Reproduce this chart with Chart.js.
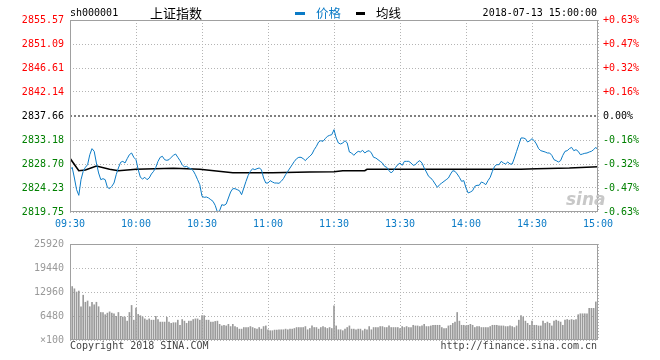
<!DOCTYPE html>
<html>
<head>
<meta charset="utf-8">
<script src="https://cdn.jsdelivr.net/npm/chart.js@4.4.0/dist/chart.umd.min.js"></script>
<style>
  body { margin: 0; background: #fff; width: 660px; height: 360px; position: relative; overflow: hidden; }
  canvas { position: absolute; left: 0; }
  #pc { top: 0; }
  #vc { top: 232px; }
  .t { position: absolute; white-space: nowrap; font: 10px/12px "DejaVu Sans Mono", monospace; }
  .cjk { font-family: "Noto Sans CJK SC", sans-serif; }
  .bar { position: absolute; height: 3px; }
</style>
</head>
<body>
<canvas id="pc" width="660" height="232"></canvas>
<canvas id="vc" width="660" height="128"></canvas>

<div class="t" style="left:70px;top:7px;color:#000">sh000001</div>
<div class="t cjk" style="left:150px;top:4px;font-size:13px;line-height:18px;color:#000">上证指数</div>
<div class="bar" style="left:295px;top:12px;width:10px;background:#0b7bc6"></div>
<div class="t cjk" style="left:316px;top:4px;font-size:12.5px;line-height:18px;color:#0b7bc6">价格</div>
<div class="bar" style="left:356px;top:12px;width:9px;background:#000"></div>
<div class="t cjk" style="left:376px;top:4px;font-size:12.5px;line-height:18px;color:#000">均线</div>
<div class="t" style="right:63px;top:7px;color:#000">2018-07-13 15:00:00</div>
<div class="t" style="left:566px;top:190px;font:italic bold 17px/18px 'DejaVu Sans',sans-serif;color:#c8c8c8">sina</div>
<div class="t" style="left:70px;top:340px;color:#444">Copyright 2018 SINA.COM</div>
<div class="t" style="right:63px;top:340px;color:#444">http://finance.sina.com.cn</div>

<script>
// 上证指数 分时 2018-07-13, one point per minute from 09:30 (0) to 15:00 (240)
const timeLabels = ["09:30", "10:00", "10:30", "11:00", "11:30", "13:30", "14:00", "14:30", "15:00"];
const priceTicks = [2819.75, 2824.23, 2828.70, 2833.18, 2837.66, 2842.14, 2846.61, 2851.09, 2855.57];
const pctTicks = ["-0.63%", "-0.47%", "-0.32%", "-0.16%", "0.00%", "+0.16%", "+0.32%", "+0.47%", "+0.63%"];
const volTicks = [0, 6480, 12960, 19440, 25920];
const prevClose = 2837.66;

const prices = [
  2827.65,2828.08,2826.09,2823.92,2822.86,2825.78,2827.34,2828.08,2828.58,2830.45,
  2831.57,2831.07,2828.89,2827.03,2825.78,2825.97,2825.78,2824.35,2824.10,2824.54,
  2825.16,2826.71,2827.96,2829.02,2829.20,2828.89,2829.70,2830.45,2830.76,2829.95,
  2829.51,2827.65,2826.22,2825.91,2826.22,2825.78,2826.09,2826.84,2827.34,2828.08,
  2829.20,2829.95,2830.14,2829.51,2829.39,2829.51,2829.95,2830.32,2830.57,2829.95,
  2829.33,2828.58,2828.15,2828.27,2827.96,2827.83,2827.46,2826.71,2825.78,2824.85,
  2822.67,2822.49,2822.55,2822.36,2822.05,2821.74,2820.99,2819.75,2819.99,2821.12,
  2820.99,2821.24,2822.36,2823.48,2824.10,2824.10,2823.92,2823.73,2822.98,2824.23,
  2825.47,2826.59,2827.34,2827.83,2827.65,2827.83,2827.96,2827.65,2826.09,2825.16,
  2825.16,2825.60,2825.35,2825.16,2825.16,2825.10,2825.47,2825.97,2826.71,2827.34,
  2827.96,2828.58,2829.20,2829.70,2829.95,2829.95,2829.70,2829.33,2829.82,2830.14,
  2830.57,2831.38,2832.00,2832.81,2833.06,2832.93,2833.43,2833.87,2834.05,2834.18,
  2835.11,2833.56,2832.62,2832.44,2832.62,2833.06,2832.62,2830.94,2830.76,2830.32,
  2830.76,2831.07,2830.94,2831.25,2830.76,2831.07,2831.19,2830.76,2829.95,2829.82,
  2829.51,2829.20,2828.89,2828.27,2828.08,2827.46,2827.03,2827.46,2828.08,2828.58,
  2828.89,2828.46,2829.20,2829.20,2829.20,2828.89,2828.46,2828.58,2829.08,2829.33,
  2828.89,2827.96,2827.21,2826.40,2826.09,2825.60,2824.97,2824.35,2824.85,2825.16,
  2825.47,2825.78,2826.09,2826.84,2827.46,2827.34,2826.84,2826.22,2825.47,2825.60,
  2824.23,2823.30,2823.48,2823.73,2824.54,2824.73,2824.73,2825.35,2825.16,2824.85,
  2825.60,2826.22,2827.34,2828.27,2828.58,2828.58,2829.20,2828.89,2828.70,2829.08,
  2828.70,2828.70,2829.82,2831.07,2832.31,2833.56,2833.56,2833.43,2832.81,2833.06,
  2833.43,2833.06,2832.44,2831.57,2831.19,2831.07,2830.94,2830.76,2830.76,2830.32,
  2829.51,2829.33,2829.08,2829.33,2830.32,2831.07,2831.19,2831.57,2831.81,2831.19,
  2831.38,2831.07,2830.45,2830.57,2830.70,2830.76,2830.94,2831.07,2831.38,2831.81,
  2831.32
];

// average line, read at the minutes where it changes
const avgMinutes = [0, 4, 7, 12, 18, 22, 30, 47, 59, 74, 92, 109, 120, 124, 134, 135, 205, 212, 227, 240];
const avgValues = [2829.77, 2827.45, 2827.59, 2828.33, 2827.72, 2827.45, 2827.72, 2827.90, 2827.72, 2827.08,
                   2827.08, 2827.21, 2827.27, 2827.45, 2827.45, 2827.72, 2827.72, 2827.83, 2827.96, 2828.20];

const volumes = [
  25900,14435,13824,12960,13220,8985,12096,10195,10541,8985,
  10195,9504,10195,8985,7430,7430,6826,7258,7603,7258,
  7085,6394,7430,6394,6221,6221,5098,7430,9331,5357,
  8640,6912,6566,6221,5702,5357,5702,5357,5357,6394,
  5530,4838,4838,4838,6134,4838,4493,4666,4666,5357,
  3974,5530,5098,4493,5098,5098,5530,5702,5702,5357,
  6566,6566,5357,5357,4838,4838,5011,5098,4234,3802,
  3974,3802,4234,3629,4234,3629,3370,2938,2938,3370,
  3370,3370,3629,3370,3110,2938,3370,2938,3629,3802,
  2765,2506,2506,2678,2678,2765,2765,2765,2938,2765,
  2938,2938,3110,3370,3370,3370,3370,3629,2765,3110,
  3802,3370,3370,2938,3370,3629,3370,3110,3370,3110,
  9245,3802,2765,2765,2506,2938,3370,3802,2938,2938,
  2765,2938,2938,2506,2938,2765,3629,2765,3370,3370,
  3370,3629,3629,3370,3370,3802,3370,3370,3370,3370,
  3110,3629,3370,3629,3370,3370,3974,3802,3802,3629,
  3802,4234,3629,3629,3802,3974,3974,3974,3974,3370,
  3110,3110,3802,3974,4493,4838,7430,5098,3974,3974,
  3802,3974,4234,3974,3370,3629,3629,3370,3370,3370,
  3370,3629,3974,3974,3974,3802,3802,3802,3629,3629,
  3802,3629,3370,3802,5357,6566,6221,5098,4493,3974,
  5098,3974,3974,3802,3802,5098,4493,4838,4493,3802,
  5098,5357,5098,4838,3974,5357,5530,5357,5530,5357,
  5530,6826,7085,7085,7085,7085,8554,8554,8554,10282,
  12269
];

const monoFont = { family: "'DejaVu Sans Mono', monospace", size: 10 };
const gridGray = '#b4b4b4';
const blue = '#0b7bc6';

function priceColor(ctx) {
  const v = ctx.tick.value;
  if (v > prevClose + 0.001) return '#ff0000';
  if (v < prevClose - 0.001) return '#008000';
  return '#000000';
}

const frame = {
  id: 'frame',
  afterDraw(chart) {
    const a = chart.chartArea, c = chart.ctx;
    c.save();
    c.strokeStyle = '#a0a0a0';
    c.lineWidth = 1;
    c.strokeRect(Math.round(a.left) + 0.5, Math.round(a.top) + 0.5,
                 Math.round(a.right - a.left) - 1, Math.round(a.bottom - a.top) - 1);
    c.restore();
  }
};

const timeAxis = (showLabels) => ({
  type: 'linear', min: 0, max: 240, offset: false,
  afterBuildTicks: ax => { ax.ticks = timeLabels.map((_, k) => ({ value: k * 30 })); },
  afterFit: s => { s.height = 20; },
  grid: { color: gridGray, drawTicks: false, offset: false },
  border: { display: false, dash: [1, 2] },
  ticks: {
    display: showLabels, color: blue, font: monoFont, padding: 6, maxRotation: 0,
    callback: v => timeLabels[v / 30]
  }
});

new Chart(document.getElementById('pc'), {
  type: 'line',
  data: {
    datasets: [{
      label: '价格',
      data: prices.map((v, i) => ({ x: i, y: v })),
      borderColor: blue, borderWidth: 1, pointRadius: 0, tension: 0
    }, {
      label: '均线',
      data: avgMinutes.map((m, k) => ({ x: m, y: avgValues[k] })),
      borderColor: '#000', borderWidth: 1.6, pointRadius: 0, tension: 0
    }, {
      label: 'prev',
      data: [{ x: 0, y: prevClose }, { x: 240, y: prevClose }],
      borderColor: '#000', borderWidth: 1, borderDash: [2, 2], pointRadius: 0
    }]
  },
  options: {
    responsive: false, animation: false, devicePixelRatio: 1,
    layout: { padding: { top: 20, left: 0, right: 0, bottom: 0 } },
    plugins: { legend: { display: false }, tooltip: { enabled: false } },
    scales: {
      x: timeAxis(true),
      y: {
        min: priceTicks[0], max: priceTicks[priceTicks.length - 1],
        afterBuildTicks: ax => { ax.ticks = priceTicks.map(v => ({ value: v })); },
        afterFit: s => { s.width = 70; },
        grid: {
          drawTicks: false,
          color: ctx => (ctx.tick && Math.abs(ctx.tick.value - prevClose) < 0.001) ? 'rgba(0,0,0,0)' : gridGray
        },
        border: { display: false, dash: [1, 2] },
        ticks: { color: priceColor, font: monoFont, padding: 6, callback: v => v.toFixed(2) }
      },
      y2: {
        position: 'right',
        min: priceTicks[0], max: priceTicks[priceTicks.length - 1],
        afterBuildTicks: ax => { ax.ticks = priceTicks.map(v => ({ value: v })); },
        afterFit: s => { s.width = 62; },
        grid: { display: false, drawTicks: false },
        border: { display: false },
        ticks: { color: priceColor, font: monoFont, padding: 5,
                 callback: v => pctTicks[priceTicks.findIndex(p => Math.abs(p - v) < 0.001)] }
      }
    }
  },
  plugins: [frame]
});

new Chart(document.getElementById('vc'), {
  type: 'bar',
  data: {
    datasets: [{
      label: 'volume',
      data: volumes.map((v, i) => ({ x: i, y: v })),
      backgroundColor: '#9a9a9a', barThickness: 1
    }]
  },
  options: {
    responsive: false, animation: false, devicePixelRatio: 1,
    layout: { padding: { top: 8, left: 0, right: 62, bottom: 0 } },
    plugins: { legend: { display: false }, tooltip: { enabled: false } },
    scales: {
      x: timeAxis(false),
      y: {
        min: 0, max: volTicks[volTicks.length - 1],
        afterBuildTicks: ax => { ax.ticks = volTicks.map(v => ({ value: v })); },
        afterFit: s => { s.width = 70; },
        grid: { color: gridGray, drawTicks: false },
        border: { display: false, dash: [1, 2] },
        ticks: { color: '#999', font: monoFont, padding: 6, callback: v => v === 0 ? '×100' : String(v) }
      }
    }
  },
  plugins: [frame]
});
</script>
</body>
</html>
